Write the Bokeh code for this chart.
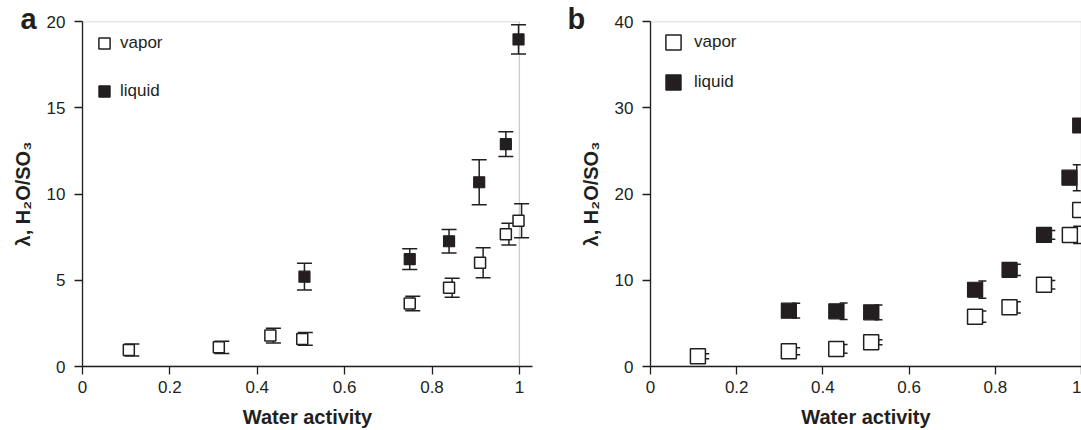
from bokeh.plotting import figure
from bokeh.layouts import row
from bokeh.models import (ColumnDataSource, Whisker, TeeHead, FixedTicker, NumeralTickFormatter,
                          Legend, LegendItem, BoxAnnotation, Range1d, Title)
from bokeh.transform import dodge
from bokeh.embed import file_html
from bokeh.resources import INLINE

# ---------------- data ----------------
x_ticks = [0, 0.2, 0.4, 0.6, 0.8, 1]
a_y_ticks = [0, 5, 10, 15, 20]
b_y_ticks = [0, 10, 20, 30, 40]

# panel a
a_vapor_x = [0.106, 0.312, 0.430, 0.503, 0.749, 0.839, 0.910, 0.969, 0.998]
a_vapor_y = [0.96, 1.11, 1.79, 1.60, 3.65, 4.57, 6.01, 7.67, 8.45]
a_vapor_err = [0.35, 0.35, 0.43, 0.37, 0.42, 0.55, 0.87, 0.63, 0.98]
a_liquid_x = [0.508, 0.749, 0.839, 0.908, 0.969, 0.998]
a_liquid_y = [5.21, 6.22, 7.26, 10.68, 12.89, 18.96]
a_liquid_err = [0.78, 0.60, 0.68, 1.30, 0.72, 0.85]

# panel b
b_vapor_x = [0.110, 0.321, 0.431, 0.512, 0.753, 0.833, 0.913, 0.973, 0.997]
b_vapor_y = [1.19, 1.77, 2.04, 2.81, 5.78, 6.86, 9.48, 15.26, 18.15]
b_vapor_err = [0.30, 0.40, 0.50, 0.30, 0.65, 0.65, 0.50, 1.00, 1.00]
b_liquid_x = [0.321, 0.431, 0.512, 0.753, 0.833, 0.913, 0.972, 0.997]
b_liquid_y = [6.47, 6.40, 6.28, 8.90, 11.21, 15.26, 21.89, 27.94]
b_liquid_err = [0.85, 0.95, 0.85, 1.00, 0.65, 0.50, 1.50, 1.25]

x_title = "Water activity"
y_title = "λ, H₂O/SO₃"
series_names = ["vapor", "liquid"]
panel_letters = ["a", "b"]

INK = "#231f20"
FONT = "Liberation Sans"


def src(xs, ys, es):
    return ColumnDataSource(dict(x=xs, y=ys,
                                 upper=[v + e for v, e in zip(ys, es)],
                                 lower=[v - e for v, e in zip(ys, es)]))


def make_panel(letter, width, left, frame_w, x_end, y_end, y_ticks,
               vx, vy, ve, lx, ly, le, msize, cap, vdodge, ldodge,
               leg_glyph, leg_loc, leg_spacing, leg_standoff, letter_dx):
    p = figure(width=width, height=430, output_backend="svg", toolbar_location=None,
               x_range=Range1d(0, x_end), y_range=Range1d(0, y_end),
               min_border_left=left, min_border_right=width - left - frame_w,
               min_border_top=21, min_border_bottom=62)
    p.grid.visible = False
    p.outline_line_color = None
    p.background_fill_color = "white"
    p.border_fill_color = "white"

    for ax in (p.xaxis[0], p.yaxis[0]):
        ax.axis_line_color = INK
        ax.axis_line_width = 1.3
        ax.major_tick_line_color = INK
        ax.major_tick_line_width = 1.3
        ax.major_tick_out = 8
        ax.major_tick_in = 0
        ax.minor_tick_line_color = None
        ax.major_label_text_font = FONT
        ax.major_label_text_font_size = "17px"
        ax.major_label_text_color = INK
        ax.axis_label_text_font = FONT
        ax.axis_label_text_font_style = "bold"
        ax.axis_label_text_font_size = "20px"
        ax.axis_label_text_color = INK

    p.xaxis.ticker = FixedTicker(ticks=x_ticks)
    p.xaxis.formatter = NumeralTickFormatter(format="0.[0]")
    p.xaxis.major_label_standoff = 6
    p.xaxis.axis_label = x_title
    p.xaxis.axis_label_standoff = 10

    p.yaxis.ticker = FixedTicker(ticks=y_ticks)
    p.yaxis.major_label_standoff = 9
    p.yaxis.axis_label = y_title
    p.yaxis.axis_label_standoff = 10

    # frame (top and right)
    p.add_layout(BoxAnnotation(left=0, right=1, bottom=0, top=y_end, fill_alpha=0,
                               line_color="#555555", line_width=1.3, level="underlay"))

    sv = src(vx, vy, ve)
    sl = src(lx, ly, le)
    for s, d in ((sv, vdodge), (sl, ldodge)):
        p.add_layout(Whisker(source=s, base=dodge("x", d, range=p.x_range),
                             upper="upper", lower="lower",
                             line_color=INK, line_width=1.5,
                             upper_head=TeeHead(size=cap, line_color=INK, line_width=1.5),
                             lower_head=TeeHead(size=cap, line_color=INK, line_width=1.5)))

    rv = p.scatter("x", "y", source=sv, marker="square", size=msize,
                   fill_color="white", line_color=INK, line_width=1.5)
    rl = p.scatter("x", "y", source=sl, marker="square", size=msize,
                   fill_color=INK, line_color=INK, line_width=1.2)

    leg = Legend(items=[LegendItem(label=series_names[0], renderers=[rv]),
                        LegendItem(label=series_names[1], renderers=[rl])],
                 location=leg_loc, orientation="vertical",
                 glyph_width=leg_glyph, glyph_height=leg_glyph,
                 spacing=leg_spacing, padding=0, margin=0,
                 label_standoff=leg_standoff,
                 label_text_font=FONT, label_text_font_size="17px",
                 label_text_color=INK,
                 border_line_color=None, background_fill_alpha=0)
    p.add_layout(leg, "center")

    # panel letter as a title in the top border, shifted left of the frame
    p.add_layout(Title(text=letter, align="left", offset=letter_dx, standoff=-27,
                       vertical_align="bottom", text_font=FONT, text_font_style="bold",
                       text_font_size="29px", text_color=INK), "above")
    return p


pa = make_panel(panel_letters[0], 540, 82, 450, 1.03, 20, a_y_ticks,
                a_vapor_x, a_vapor_y, a_vapor_err, a_liquid_x, a_liquid_y, a_liquid_err,
                11, 15, 0.007, 0.0, 28, (8, 261), 20, 2, -62)
pb = make_panel(panel_letters[1], 541, 110, 431, 1.0, 40, b_y_ticks,
                b_vapor_x, b_vapor_y, b_vapor_err, b_liquid_x, b_liquid_y, b_liquid_err,
                15, 8, 0.017, 0.017, 38, (4, 265), 2, 2, -83)

layout = row(pa, pb, spacing=0)
open("out.html", "w").write(file_html(layout, INLINE))
